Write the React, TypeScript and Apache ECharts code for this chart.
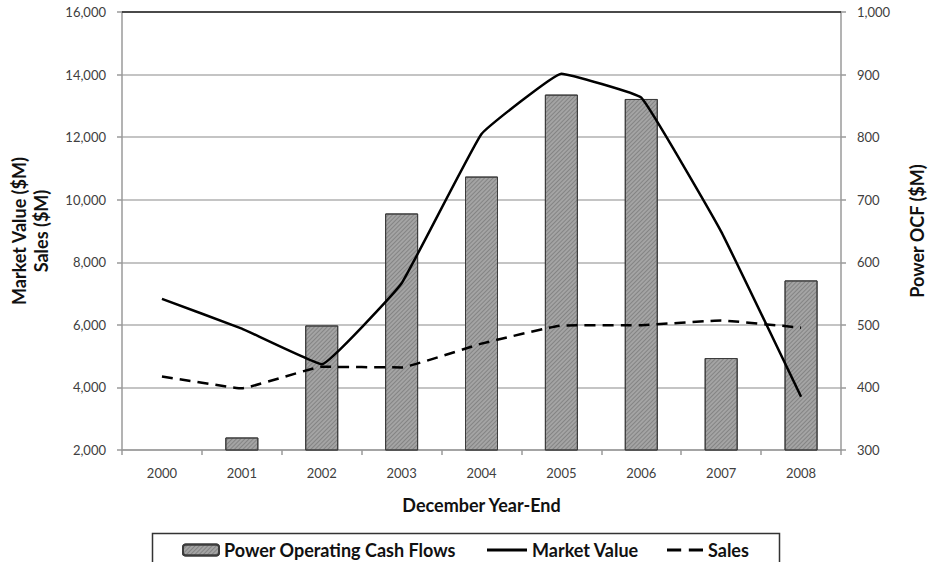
import React, { useEffect, useRef } from "react";
import * as echarts from "echarts";

const years = ["2000", "2001", "2002", "2003", "2004", "2005", "2006", "2007", "2008"];
const powerOCF = [null, 320, 499, 678, 737, 868, 861, 447, 571];
const marketValue = [6830, 5880, 4740, 7330, 12100, 14030, 13260, 8980, 3700];
const sales = [4350, 3970, 4660, 4640, 5400, 5980, 5990, 6140, 5910];

const FONT = "Lato, 'Open Sans', sans-serif";

export default function App() {
  const ref = useRef<HTMLDivElement>(null);

  useEffect(() => {
    document.body.style.margin = "0";
    if (!ref.current) return;
    const chart = echarts.init(ref.current, null, { renderer: "svg" });
    const tickLabel = { color: "#404040", fontFamily: FONT, fontSize: 13 };
    const axisTitle = { color: "#111", fontFamily: FONT, fontSize: 18, fontWeight: "bold" as const };
    const legendText = {
      color: "#111",
      fontFamily: FONT,
      fontSize: 18,
      lineHeight: 20,
      fontWeight: "bold" as const,
    };

    chart.setOption({
      animation: false,
      backgroundColor: "#ffffff",
      textStyle: { fontFamily: FONT },
      grid: { left: 117, right: 89, top: 12, bottom: 112, containLabel: false },
      xAxis: {
        type: "category",
        data: years,
        name: "December Year-End",
        nameLocation: "middle",
        nameGap: 46,
        nameTextStyle: axisTitle,
        axisLine: { lineStyle: { color: "#9a9a9a", width: 1.5 } },
        axisTick: { show: true, length: 5, lineStyle: { color: "#9a9a9a", width: 1.5 } },
        axisLabel: { ...tickLabel, margin: 16 },
      },
      yAxis: [
        {
          type: "value",
          min: 2000,
          max: 16000,
          interval: 2000,
          position: "left",
          name: "Market Value ($M)\nSales ($M)",
          nameLocation: "middle",
          nameRotate: 90,
          nameGap: 70,
          nameTextStyle: { ...axisTitle, lineHeight: 22 },
          axisLine: { show: true, lineStyle: { color: "#9a9a9a", width: 1.5 } },
          axisTick: { show: true, length: 5, lineStyle: { color: "#9a9a9a", width: 1.5 } },
          axisLabel: { ...tickLabel, margin: 16 },
          splitLine: { show: true, lineStyle: { color: "#b0b0b0", width: 1.5 } },
        },
        {
          type: "value",
          min: 300,
          max: 1000,
          interval: 100,
          position: "right",
          name: "Power OCF ($M)",
          nameLocation: "middle",
          nameRotate: 90,
          nameGap: 67,
          nameTextStyle: axisTitle,
          axisLine: { show: true, lineStyle: { color: "#9a9a9a", width: 1.5 } },
          axisTick: { show: true, length: 5, lineStyle: { color: "#9a9a9a", width: 1.5 } },
          axisLabel: { ...tickLabel, margin: 16 },
          splitLine: { show: false },
        },
      ],
      legend: [
        {
          left: 182,
          top: 540,
          padding: 0,
          data: ["Power Operating Cash Flows"],
          itemWidth: 36,
          itemHeight: 11,
          selectedMode: false,
          textStyle: legendText,
        },
        {
          left: 487,
          top: 540,
          padding: 0,
          data: [{ name: "Market Value", icon: "path://M0,0h40v3h-40z" }],
          itemWidth: 40,
          itemHeight: 3,
          symbolKeepAspect: false,
          selectedMode: false,
          textStyle: legendText,
        },
        {
          left: 667,
          top: 540,
          padding: 0,
          data: [{ name: "Sales", icon: "path://M0,0h13v3h-13z M20,0h13v3h-13z" }],
          itemWidth: 36,
          itemHeight: 3,
          symbolKeepAspect: false,
          selectedMode: false,
          textStyle: legendText,
        },
      ],
      graphic: [
        {
          type: "rect",
          left: 150,
          top: 531,
          shape: { width: 627, height: 60 },
          style: { fill: "none", stroke: "#333", lineWidth: 1.5 },
          silent: true,
        },
      ],
      series: [
        {
          name: "Power Operating Cash Flows",
          type: "bar",
          yAxisIndex: 1,
          data: powerOCF,
          barWidth: 33,
          itemStyle: {
            color: "#a4a4a4",
            borderColor: "#3c3c3c",
            borderWidth: 1,
            decal: {
              symbol: "rect",
              symbolSize: 1,
              color: "rgba(70,70,70,0.35)",
              dashArrayX: [1, 0],
              dashArrayY: [1, 2],
              rotation: -Math.PI / 4,
            },
          },
        },
        {
          name: "Market Value",
          type: "line",
          yAxisIndex: 0,
          data: marketValue,
          symbol: "none",
          smooth: 0.08,
          lineStyle: { color: "#000", width: 2.5 },
          itemStyle: { color: "#000" },
          markLine: {
            silent: true,
            symbol: "none",
            label: { show: false },
            lineStyle: { color: "#222", width: 1.5, type: "solid" },
            data: [{ yAxis: 16000 }],
          },
        },
        {
          name: "Sales",
          type: "line",
          yAxisIndex: 0,
          data: sales,
          symbol: "none",
          smooth: 0.08,
          lineStyle: { color: "#000", width: 2.5, type: [11, 7] },
          itemStyle: { color: "#000" },
        },
      ],
    });
    return () => chart.dispose();
  }, []);

  return (
    <div
      ref={ref}
      style={{ position: "fixed", left: 0, top: 0, width: 934, height: 562 }}
    />
  );
}
